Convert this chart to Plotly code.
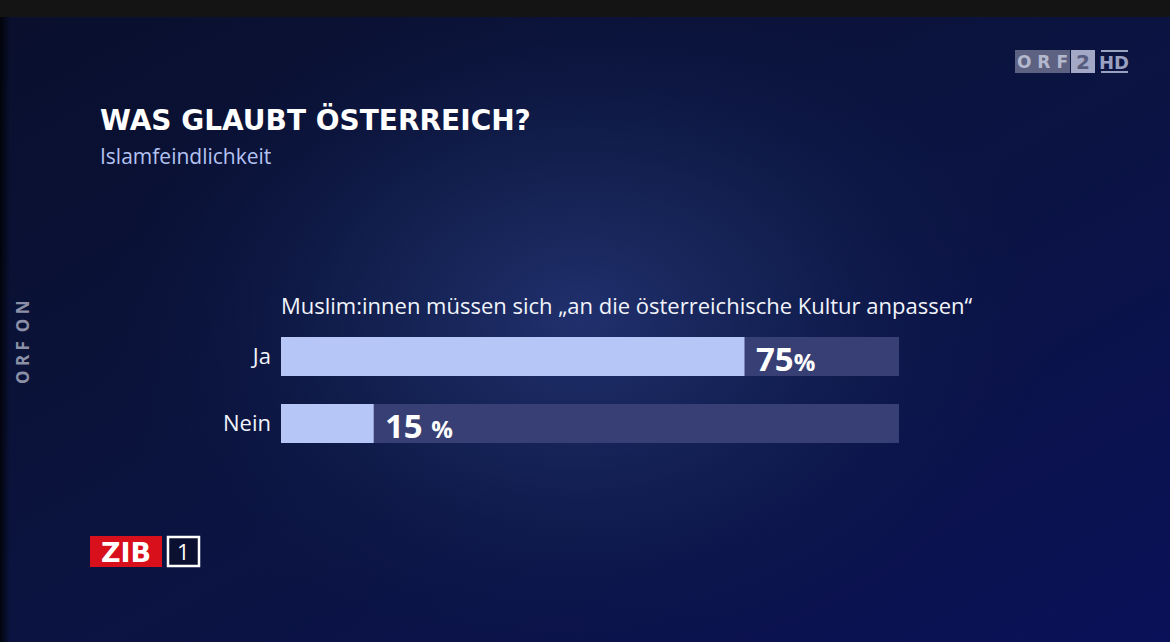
import plotly.graph_objects as go
import urllib.parse

# ---- data ----
categories = ["Ja", "Nein"]
values = [75, 15]
track_values = [100, 100]
title_text = "WAS GLAUBT ÖSTERREICH?"
subtitle_text = "Islamfeindlichkeit"
question_text = "Muslim:innen müssen sich „an die österreichische Kultur anpassen“"

W, H = 1170, 642
ML, MR, MT, MB = 281, 271, 323, 185
PW = W - ML - MR
PH = H - MT - MB


def px(x):
    return (x - ML) / PW


def py(y):
    return (H - MB - y) / PH


bg_svg = (
    "<svg xmlns='http://www.w3.org/2000/svg' width='1170' height='642'>"
    "<defs>"
    "<linearGradient id='lg' x1='0' y1='0' x2='1' y2='1'>"
    "<stop offset='0' stop-color='#090f2c'/>"
    "<stop offset='0.5' stop-color='#0b1440'/>"
    "<stop offset='1' stop-color='#0b1158'/>"
    "</linearGradient>"
    "<radialGradient id='rg' cx='580' cy='320' r='480' gradientUnits='userSpaceOnUse' "
    "gradientTransform='translate(580 320) scale(1 0.75) translate(-580 -320)'>"
    "<stop offset='0' stop-color='#223270' stop-opacity='0.95'/>"
    "<stop offset='0.45' stop-color='#18285c' stop-opacity='0.6'/>"
    "<stop offset='1' stop-color='#0b1440' stop-opacity='0'/>"
    "</radialGradient>"
    "<linearGradient id='le' x1='0' y1='0' x2='1' y2='0'>"
    "<stop offset='0' stop-color='#000000' stop-opacity='0.8'/>"
    "<stop offset='1' stop-color='#000000' stop-opacity='0'/>"
    "</linearGradient>"
    "</defs>"
    "<rect width='1170' height='642' fill='url(#lg)'/>"
    "<rect width='1170' height='642' fill='url(#rg)'/>"
    "<rect width='10' height='642' fill='url(#le)'/>"
    "<rect width='1170' height='17' fill='#141414'/>"
    "</svg>"
)
bg_uri = "data:image/svg+xml;charset=utf-8," + urllib.parse.quote(bg_svg)

fig = go.Figure()
fig.add_trace(go.Bar(
    y=categories, x=track_values, orientation="h",
    marker=dict(color="#383f75", line=dict(width=0)),
    width=0.58, hoverinfo="skip", showlegend=False,
))
fig.add_trace(go.Bar(
    y=categories, x=values, orientation="h",
    marker=dict(color="#b6c7f7", line=dict(width=0)),
    width=0.58, showlegend=False,
))

annotations = []
for cat, v in zip(categories, values):
    sep = "" if v >= 50 else " "
    annotations.append(dict(
        x=v, y=cat, xref="x", yref="y", xanchor="left", yanchor="middle",
        xshift=9, yshift=-2, showarrow=False,
        text=f"<b>{v}</b>{sep}<span style='font-size:24px'><b>%</b></span>",
        font=dict(family="Open Sans", size=33, color="#ffffff"),
    ))

annotations += [
    dict(x=px(98), y=py(120), xref="paper", yref="paper", xanchor="left", yanchor="middle",
         text=f"<b>{title_text}</b>", showarrow=False,
         font=dict(family="DejaVu Sans", size=28, color="#ffffff")),
    dict(x=px(98), y=py(156), xref="paper", yref="paper", xanchor="left", yanchor="middle",
         text=subtitle_text, showarrow=False,
         font=dict(family="Open Sans", size=21, color="#b4c2f2")),
    dict(x=px(279), y=py(305), xref="paper", yref="paper", xanchor="left", yanchor="middle",
         text=question_text, showarrow=False,
         font=dict(family="Open Sans", size=22, color="#f2f4fb")),
    dict(x=px(22), y=py(342), xref="paper", yref="paper", xanchor="center", yanchor="middle",
         text="<b>O R F  O N</b>", textangle=-90, showarrow=False,
         font=dict(family="Open Sans", size=17, color="#8c90a6")),
    # ZIB logo
    dict(x=px(126), y=py(552), xref="paper", yref="paper", xanchor="center", yanchor="middle",
         text="<b>ZIB</b>", showarrow=False,
         font=dict(family="DejaVu Sans", size=27, color="#ffffff")),
    dict(x=px(183.5), y=py(551), xref="paper", yref="paper", xanchor="center", yanchor="middle",
         text="1", showarrow=False,
         font=dict(family="Open Sans", size=22, color="#ffffff")),
    # ORF2 HD logo
    dict(x=px(1042), y=py(62), xref="paper", yref="paper", xanchor="center", yanchor="middle",
         text="<b>O R F</b>", showarrow=False,
         font=dict(family="DejaVu Sans", size=17, color="#b4b8cc")),
    dict(x=px(1083), y=py(62), xref="paper", yref="paper", xanchor="center", yanchor="middle",
         text="<b>2</b>", showarrow=False,
         font=dict(family="DejaVu Sans", size=20, color="#575c7e")),
    dict(x=px(1114), y=py(62), xref="paper", yref="paper", xanchor="center", yanchor="middle",
         text="<b>HD</b>", showarrow=False,
         font=dict(family="DejaVu Sans", size=18, color="#9aa0c0")),
]

shapes = [
    dict(type="rect", xref="paper", yref="paper", x0=px(90), x1=px(162), y0=py(567), y1=py(536),
         fillcolor="#d8101c", line=dict(width=0), layer="below"),
    dict(type="rect", xref="paper", yref="paper", x0=px(168), x1=px(199), y0=py(566), y1=py(537),
         fillcolor="#0b1030", line=dict(color="#ffffff", width=2.5), layer="below"),
    dict(type="rect", xref="paper", yref="paper", x0=px(1015), x1=px(1070), y0=py(73), y1=py(50),
         fillcolor="#5d6282", line=dict(width=0), layer="below"),
    dict(type="rect", xref="paper", yref="paper", x0=px(1071), x1=px(1095), y0=py(73), y1=py(50),
         fillcolor="#a2a8c6", line=dict(width=0), layer="below"),
    dict(type="line", xref="paper", yref="paper", x0=px(1101), x1=px(1128), y0=py(51), y1=py(51),
         line=dict(color="#9aa0c0", width=2), layer="below"),
    dict(type="line", xref="paper", yref="paper", x0=px(1101), x1=px(1128), y0=py(72), y1=py(72),
         line=dict(color="#9aa0c0", width=2), layer="below"),
]

fig.update_layout(
    width=W, height=H,
    margin=dict(l=ML, r=MR, t=MT, b=MB),
    paper_bgcolor="#0b1440", plot_bgcolor="rgba(0,0,0,0)",
    barmode="overlay",
    xaxis=dict(range=[0, 100], visible=False, fixedrange=True),
    yaxis=dict(categoryorder="array", categoryarray=categories,
               autorange=False, range=[1.5, -0.5], showgrid=False, zeroline=False,
               showline=False, ticks="", ticklabelstandoff=9,
               tickfont=dict(family="Open Sans", size=22, color="#f2f4fb")),
    images=[dict(source=bg_uri, xref="paper", yref="paper",
                 x=-ML / PW, y=1 + MT / PH, sizex=W / PW, sizey=H / PH,
                 xanchor="left", yanchor="top", sizing="stretch", layer="below")],
    annotations=annotations,
    shapes=shapes,
    showlegend=False,
)

fig.write_html("out.html")
